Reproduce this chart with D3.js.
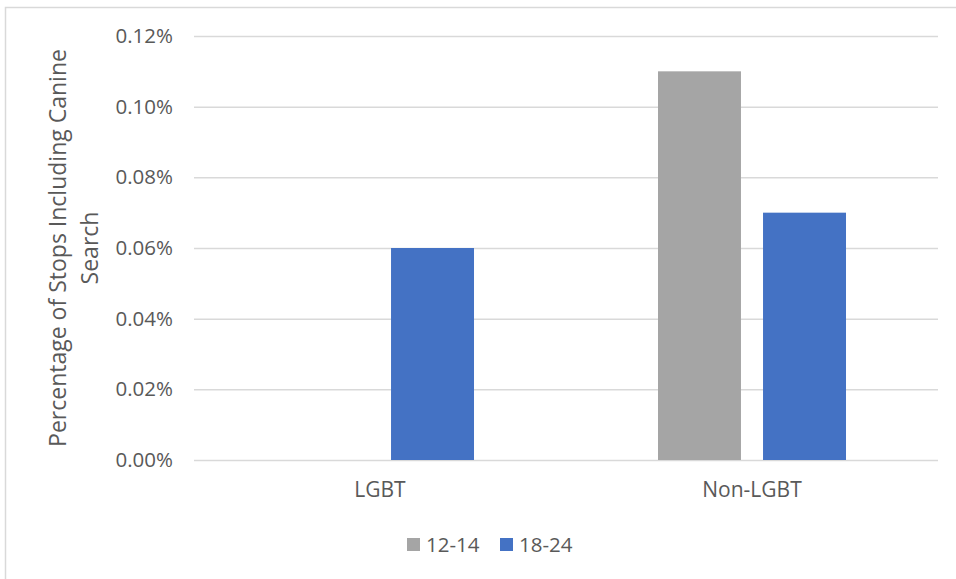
<!DOCTYPE html>
<html><head><meta charset="utf-8">
<script src="https://cdn.jsdelivr.net/npm/d3@7"></script>
<style>body{margin:0;background:#fff;}svg{display:block;}</style>
</head><body><svg id="c" width="956" height="579"></svg>
<script>
const categories = ["LGBT", "Non-LGBT"];
const seriesNames = ["12-14", "18-24"];
const series1214 = [0, 0.0011];
const series1824 = [0.0006, 0.0007];
const yTicks = [0, 0.0002, 0.0004, 0.0006, 0.0008, 0.0010, 0.0012];
const colors = ["#A5A5A5", "#4472C4"];

(function(){
const svg = d3.select("#c");
const font = "Open Sans, Liberation Sans, sans-serif";
const txt = "#595959";

// frame
svg.append("rect").attr("x", 5.5).attr("y", 7.5).attr("width", 960).attr("height", 600)
  .attr("fill", "none").attr("stroke", "#d9d9d9").attr("stroke-width", 1.5);

const mLeft = 194, mRight = 938, mTop = 36, mBottom = 460;
const y = d3.scaleLinear().domain([0, 0.0012]).range([mBottom, mTop]);
const p = 0.4946;
const x0 = d3.scaleBand().domain(categories).range([mLeft, mRight]).paddingInner(p).paddingOuter(p / 2);
const x1 = d3.scaleBand().domain(seriesNames).range([0, x0.bandwidth()]).paddingInner(0.21).paddingOuter(0);

// gridlines
const yAxis = d3.axisLeft(y).tickValues(yTicks).tickSize(-(mRight - mLeft)).tickFormat(d3.format(".2%")).tickPadding(21);
const g = svg.append("g").attr("transform", `translate(${mLeft},0)`).call(yAxis);
g.select(".domain").remove();
g.selectAll(".tick line").attr("stroke", "#d9d9d9").attr("stroke-width", 1.5);
g.selectAll(".tick text").attr("fill", txt).attr("font-family", font).attr("font-size", 20.5);

// bars
const data = categories.map((c, i) => ({cat: c, vals: [series1214[i], series1824[i]]}));
const grp = svg.append("g").selectAll("g").data(data).join("g")
  .attr("transform", d => `translate(${x0(d.cat)},0)`);
grp.selectAll("rect").data(d => d.vals.map((v, j) => ({s: seriesNames[j], v, j})))
  .join("rect")
  .attr("x", d => x1(d.s)).attr("width", x1.bandwidth())
  .attr("y", d => y(d.v)).attr("height", d => y(0) - y(d.v))
  .attr("fill", d => colors[d.j]);

// x axis labels
const xAxis = d3.axisBottom(x0).tickSize(0).tickPadding(22);
const gx = svg.append("g").attr("transform", `translate(0,${mBottom})`).call(xAxis);
gx.select(".domain").remove();
gx.selectAll(".tick text").attr("fill", txt).attr("font-family", font).attr("font-size", 21);

// y title
const yt = svg.append("text").attr("transform", `translate(66,${(mTop + mBottom) / 2}) rotate(-90)`)
  .attr("text-anchor", "middle").attr("fill", txt).attr("font-family", font).attr("font-size", 23);
yt.append("tspan").attr("x", 0).attr("dy", 0).text("Percentage of Stops Including Canine");
yt.append("tspan").attr("x", 0).attr("dy", 32).text("Search");

// legend
const leg = svg.append("g");
const lx = [407, 500];
seriesNames.forEach((s, i) => {
  leg.append("rect").attr("x", lx[i]).attr("y", 538).attr("width", 13).attr("height", 13).attr("fill", colors[i]);
  leg.append("text").attr("x", lx[i] + 19).attr("y", 552).attr("fill", txt)
    .attr("font-family", font).attr("font-size", 20.5).text(s);
});
})();
</script></body></html>
